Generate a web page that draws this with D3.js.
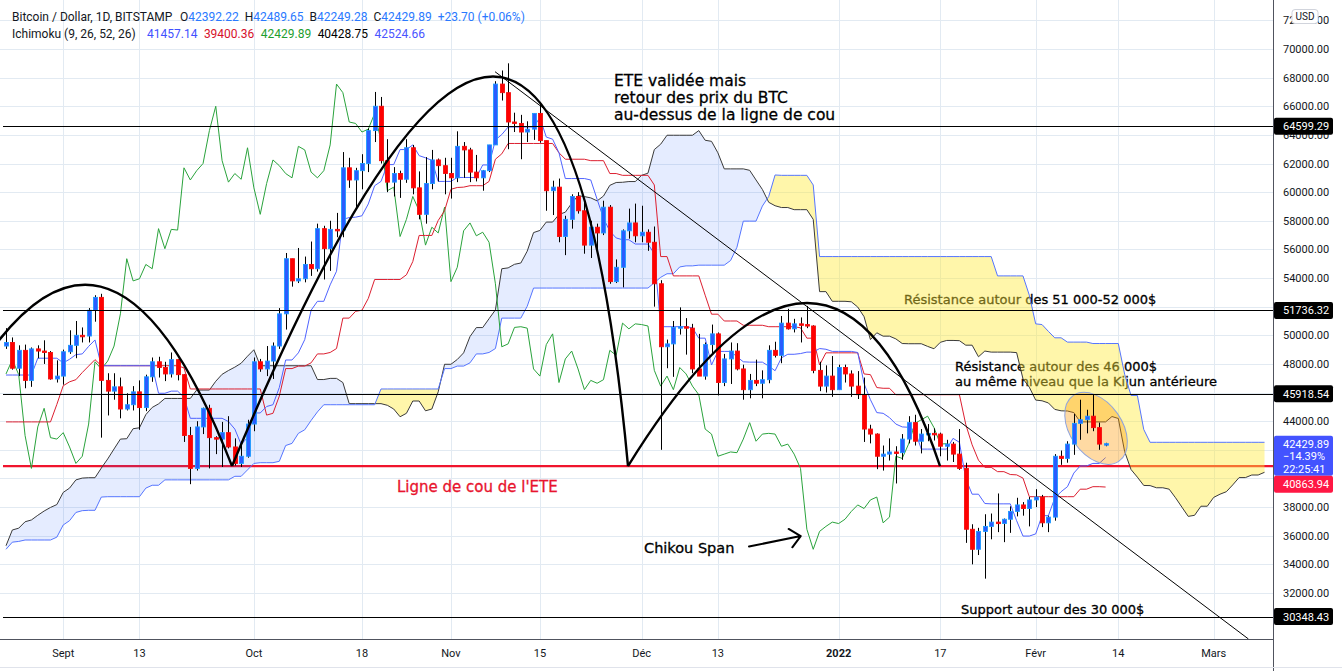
<!DOCTYPE html>
<html><head><meta charset="utf-8">
<script src="https://cdn.jsdelivr.net/npm/d3@7/dist/d3.min.js"></script>
<style>html,body{margin:0;padding:0;background:#fff;overflow:hidden}svg{display:block}</style>
</head><body>
<svg id="chart" width="1342" height="671"></svg>
<script>
// ---------------- DATA (daily candles, BITSTAMP BTC/USD, from 2021-08-23) ----------------
const firstDay = "2021-08-23";
const open = [
49250,49500,47700,48950,46850,49050,48900,48800,46950,47150,
48850,49300,50000,49950,51750,52650,46850,46100,46400,44850,
45150,46050,44950,47100,48150,47750,47300,48300,47250,43000,
40700,43600,44900,42850,42750,43200,42200,41050,41550,43800,
48150,47650,48200,49250,51500,55350,53800,53950,54950,54650,
57450,56050,57400,57350,61700,60850,61500,62000,64300,66000,
62200,60700,61300,60900,63100,60300,58450,60600,62250,61850,
61300,61000,63200,62950,61400,61000,61500,63300,67550,66950,
64900,64800,64200,64400,65500,63600,60100,60350,56900,58100,
59700,58700,56300,57550,57150,58950,53750,54750,57300,57850,
56950,57200,56500,53600,49200,49400,50550,50600,50500,47650,
47150,49350,50100,46700,48350,48900,47650,46200,46850,46650,
46900,48950,48600,50850,50450,50800,50750,50650,47550,46450,
47150,46200,47750,47300,46450,45850,43450,43100,41550,41700,
41850,41800,42750,43900,42600,43100,43150,43100,42250,42400,
41700,40700,36450,35050,36300,36650,36950,36850,37150,37700,
38150,37900,38500,38700,36900,37300,41550,41400,42400,43850,
44100,44350,43550,42392.22];
const high = [
50500,49850,49300,49350,49150,49300,49650,48900,48250,49000,
50350,51000,50550,51900,52800,52900,47350,47350,47050,45950,
46450,46850,47250,48450,48500,48150,48800,48350,47300,43600,
44000,44950,45150,42950,43950,44350,42800,42600,44100,48450,
48350,49250,49500,51900,55750,55350,56100,55500,56550,57800,
57650,58000,58550,62800,62400,61700,62650,64450,67000,66650,
63700,61750,61500,63700,63300,61450,62450,62950,62350,62400,
62400,64250,63500,63100,62600,61550,63300,67750,68500,69000,
65550,65400,64950,65500,66300,63600,60800,60950,58350,59850,
60000,59300,58000,57800,59400,59100,55300,57400,58850,59200,
59050,57400,57600,53850,49700,51000,51950,51200,50800,50100,
49500,50750,50200,48700,49500,49450,47950,47300,48300,47550,
49300,49550,51350,51850,51150,51250,52050,50700,48150,47900,
48550,47950,47950,47550,47500,47050,43750,43150,42300,42800,
42250,43100,44350,44450,43450,43800,43500,43200,42700,42550,
43450,41100,36800,36550,37500,37550,38950,37200,38050,38650,
38350,38700,39250,38850,37400,41700,41950,42600,44500,45500,
44800,45850,43900,42489.65];
const low = [
49050,47600,47150,46300,46400,48400,48000,46900,46700,46550,
48700,48400,49500,49500,50950,42850,44400,45500,44200,44750,
44750,43400,44700,46750,47050,46800,47050,46850,42550,39600,
40550,43100,40700,41700,40800,42100,40900,40800,41450,43300,
47450,47150,46950,49050,50400,53400,53650,53700,54150,54450,
53900,54500,56850,56850,60300,58950,60200,61400,63500,62000,
60000,59700,59600,60650,59850,58100,57800,60200,60750,59850,
59550,60700,61000,60700,60750,60100,61400,63300,66400,63000,
64200,62300,63500,63650,63450,58700,58400,56500,55600,57450,
58500,55700,55400,55900,57000,53600,53650,53350,56750,56500,
56500,55900,52000,42000,47700,47100,50050,48650,47350,47250,
46900,48700,45800,46450,46600,47550,45500,45600,46450,45600,
46650,48450,48050,50400,50200,49500,50500,47350,46100,46000,
45700,46200,46700,45700,45550,42550,42450,40650,40550,41250,
39650,41300,42450,42300,41750,42600,42650,41550,41250,41150,
40600,35500,34000,34650,33000,35750,36250,35550,36200,37350,
37400,36650,38000,36600,36250,37050,40950,41100,41650,42700,
43150,43300,42000,42249.28];
const close = [
49500,47700,48950,46850,49050,48900,48800,46950,47150,48850,
49300,50000,49950,51750,52650,46850,46100,46400,44850,45150,
46050,44950,47100,48150,47750,47300,48300,47250,43000,40700,
43600,44900,42850,42750,43200,42200,41050,41550,43800,48150,
47650,48200,49250,51500,55350,53800,53950,54950,54650,57450,
56050,57400,57350,61700,60850,61500,62000,64300,66000,62200,
60700,61300,60900,63100,60300,58450,60600,62250,61850,61300,
61000,63200,62950,61400,61000,61500,63300,67550,66950,64900,
64800,64200,64400,65500,63600,60100,60350,56900,58100,59700,
58700,56300,57550,57150,58950,53750,54750,57300,57850,56950,
57200,56500,53600,49200,49400,50550,50600,50500,47650,47150,
49350,50100,46700,48350,48900,47650,46200,46850,46650,46900,
48950,48600,50850,50450,50800,50750,50650,47550,46450,47150,
46200,47750,47300,46450,45850,43450,43100,41550,41700,41850,
41800,42750,43900,42600,43100,43150,43100,42250,42400,41700,
40700,36450,35050,36300,36650,36950,36850,37150,37700,38150,
37900,38500,38700,36900,37300,41550,41400,42400,43850,44100,
44350,43550,42400,42429.89];

// Ichimoku (9, 26, 52, 26) lines
const tenkan = [
47225,47225,47225,47225,47225,48400,48400,48400,48400,48075,
48325,48650,48700,49225,49675,47875,47875,47875,47875,47875,
47875,47875,47875,47875,45950,45950,46100,46100,45675,44200,
44200,44200,44200,44200,44200,43975,43450,42375,42850,44575,
44575,45025,45150,46350,48275,48275,48775,49700,51750,52375,
52375,53525,54475,58100,58225,58250,58350,59175,60450,60750,
61925,61925,62975,62975,63300,62550,62400,62225,60750,60750,
60750,61025,61025,61025,61025,61900,61900,63650,64025,64550,
64550,64550,64550,64550,65200,63850,63700,62750,60950,60950,
60950,60950,60850,59500,58175,57275,56800,56675,56675,56375,
56375,56375,55700,50600,50600,50600,50600,50600,50525,49800,
49800,47925,48875,48875,48875,48500,48150,48125,48125,48125,
47850,47525,48425,48675,48675,48725,48825,48825,49075,49025,
48875,48875,48875,48875,48800,46625,45500,44600,44550,44250,
43800,43600,43575,43350,42050,42050,42050,42050,42050,42800,
42525,39975,38900,38900,38250,38225,38225,38225,38225,37050,
35975,35975,36125,37400,37400,38625,39075,39425,40375,40875,
40875,41050,41050,41457.14];
const kijun = [
43950,43950,43950,43950,43950,43950,43950,43950,45175,46475,
46750,46900,47400,47850,48300,47875,47875,47875,47875,47875,
47875,47875,47875,47875,47875,47875,47875,47875,47725,46250,
46250,46250,46250,46250,46250,46250,46250,46250,46250,46250,
46250,44425,44550,45750,47675,47675,47850,47850,48075,48700,
48700,48800,49075,51200,51200,51675,51750,52575,53900,53900,
53900,53900,53900,54225,55150,56975,56975,56975,58025,58700,
60200,60325,60350,60450,60450,60450,60750,62300,62675,63400,
63400,63400,63400,63400,63400,63400,63400,62750,62300,62300,
62300,62300,62200,62200,62200,61300,61300,61175,61175,61175,
61175,61175,60500,55500,55500,54150,54150,54150,54150,54150,
52800,51475,51475,51000,51000,51000,50700,50700,50700,50700,
50600,50600,50600,50600,50600,50525,49800,49800,47925,48775,
48775,48775,48775,48775,48775,47300,47250,46350,46300,46300,
45850,45850,45850,45850,45850,45850,45850,45850,45850,45850,
45850,43775,42350,41275,40775,40775,40475,40475,40275,40250,
40025,38725,38725,38725,38725,38725,38725,38725,38725,39250,
39250,39425,39425,39400.36];
// leading spans, one value per plotted day (index 0 = 2021-08-23 ... 198 = 25 days after last candle)
const leadA = [
35300,36400,36525,36975,37100,37425,37725,37975,38175,39025,
39325,39900,40025,40050,40050,40725,41360,42060,42750,42775,
43475,43540,44460,44960,45210,45590,45590,45590,45590,45590,
46175,46175,46175,46790,47275,47540,47775,48050,48540,48990,
47875,47875,47875,47875,47875,47875,47875,47875,47875,46910,
46910,46990,46990,46700,45225,45225,45225,45225,45225,45225,
45110,44850,44310,44550,45410,45410,44725,44850,46050,47975,
47975,48310,48775,49910,50540,50540,51160,51775,54650,54710,
54960,55050,55875,57175,57325,57910,57910,58440,58600,59225,
59760,59690,59600,59390,59725,60475,60675,60690,60740,60740,
61175,61325,62975,63350,63975,63975,63975,63975,63975,64300,
63625,63550,62750,61625,61625,61625,61625,61525,60850,60190,
59290,59050,58925,58925,58775,58775,58775,58100,53050,53050,
52375,52375,52375,52340,51975,51300,49700,50175,49940,49940,
49750,49425,49410,49410,49410,49225,49060,49510,49640,49640,
49625,49310,49310,48500,48900,48825,48825,48825,48825,48790,
46960,46375,45475,45425,45275,44825,44725,44710,44600,43950,
43950,43950,43950,43950,44325,44190,41875,40625,40090,39510,
39500,39350,39350,39250,38650,38000,37350,37425,38060,38060,
38675,38900,39075,39550,40060,40060,40240,40240,40428.75];
const leadB = [
35050,35550,35600,35700,35700,35700,35700,35700,35900,36750,
37050,37625,37750,37775,37775,38700,38725,38725,38725,38725,
38725,38725,39325,39525,39525,39900,39900,39900,39900,39900,
39900,39900,39900,39900,39900,39900,40150,40150,40600,41050,
41100,41100,41100,41200,42300,42450,43150,43400,44050,44650,
45150,45150,45150,45150,45150,45150,45150,45150,45150,46250,
46250,46250,46250,46250,46250,46250,46250,46250,46250,47675,
47675,47850,47850,48075,48700,48700,48800,49075,51200,51200,
51200,51200,52025,53300,53300,53300,53300,53300,53300,53300,
53300,53300,53300,53300,53300,53300,53300,53300,53300,53300,
53300,53300,53675,54050,54300,54300,54775,54850,54850,54900,
54900,54900,54900,54900,55225,56150,57975,57975,57975,59025,
59700,61200,61175,61175,61175,61175,61175,60500,55500,55500,
55500,55500,55500,55500,55500,55500,55500,55500,55500,55500,
55500,55500,55500,55500,55500,55500,55500,55500,55500,55500,
55500,55500,55500,55500,55500,55500,54150,54150,54150,54150,
54150,52800,50800,50750,50275,49825,49825,49525,49525,49525,
49525,49425,49425,49425,49425,49425,47275,45800,45800,43425,
42524.66,42524.66,42524.66,42524.66,42524.66,42524.66,42524.66,42524.66,42524.66,42524.66,
42524.66,42524.66,42524.66,42524.66,42524.66,42524.66,42524.66,42524.66,42524.66];
const chikouShift = 25;

// axis ticks (labels hidden by the price boxes are omitted, as in the reference)
const priceTicks = [32000,34000,36000,38000,40000,42000,44000,46000,48000,50000,52000,54000,56000,58000,60000,62000,64000,66000,68000,70000,72000];
const priceTickLabels = [32000,34000,36000,38000,44000,48000,50000,54000,56000,58000,60000,62000,64000,66000,68000,70000,72000];
const timeTickDates = ["2021-09-01","2021-09-13","2021-10-01","2021-10-18","2021-11-01","2021-11-15","2021-12-01","2021-12-13","2022-01-01","2022-01-17","2022-02-01","2022-02-14","2022-03-01"];
const timeTickLabels = ["Sept","13","Oct","18","Nov","15","Déc","13","2022","17","Févr","14","Mars"];

// drawings (anchors as [day index from first candle, price])
const hLevels = [64599.29, 51736.32, 45918.54, 30348.43];
const neckline = 40863.94;
const shoulderLeft = [[-7.24,45480],[15.58,63640],[35.56,40864]];
const headArc = [[35.56,40864],[86.53,95287],[97.86,40864]];
const shoulderRight = [[97.86,40864],[129.64,63643],[146.95,40864]];
const trendLine = [[76.94,68414],[195.47,28787]];
const chikouArrow = [[116.9,35248],[125.03,35974]];
const ellipseCenter = [171.5, 43502];

// legend values
const lastPrice = 42429.89;
const ohlcLabels = ["O","H","B","C"];
const ohlcValues = ["42392.22","42489.65","42249.28","42429.89"];
const ichiValues = ["41457.14","39400.36","42429.89","40428.75","42524.66"];

// ---------------- CHART ----------------
const W = 1342, H = 671, PR = 1273, PB = 639;
const t0 = Date.parse(firstDay + "T00:00:00Z"), DAY = 86400000;
const dayDate = i => new Date(t0 + i * DAY);
const x = d3.scaleUtc().domain([dayDate(0), dayDate(173)]).range([6, 1105.6]);
const y = d3.scaleLinear().domain([30000, 70000]).range([621.6, 49]);
const X = i => x(dayDate(i));

const svg = d3.select("#chart");
svg.append("rect").attr("width", W).attr("height", H).attr("fill", "#ffffff");
svg.append("defs").append("clipPath").attr("id", "plot")
  .append("rect").attr("x", 0).attr("y", 0).attr("width", PR).attr("height", PB);
const plot = svg.append("g").attr("clip-path", "url(#plot)");

// grid
const gh = plot.append("g").attr("shape-rendering", "crispEdges");
gh.selectAll("line").data(priceTicks).join("line")
  .attr("x1", 0).attr("x2", PR)
  .attr("y1", d => Math.round(y(d)) + 0.5).attr("y2", d => Math.round(y(d)) + 0.5)
  .attr("stroke", "#e2eaf2");
const gv = plot.append("g").attr("shape-rendering", "crispEdges");
gv.selectAll("line").data(timeTickDates).join("line")
  .attr("x1", d => Math.round(x(new Date(d + "T00:00:00Z"))) + 0.5)
  .attr("x2", d => Math.round(x(new Date(d + "T00:00:00Z"))) + 0.5)
  .attr("y1", 0).attr("y2", PB).attr("stroke", "#e2eaf2");

// annotation texts & neckline (below the cloud)
const under = plot.append("g").attr("font-family", "'DejaVu Sans', Verdana, sans-serif");
under.append("line").attr("x1", 3).attr("x2", PR)
  .attr("y1", y(neckline)).attr("y2", y(neckline))
  .attr("stroke", "#f0142d").attr("stroke-width", 2.2);
function note(g, anchor, lines, size, pitch, color) {
  const t = g.append("text").attr("x", X(anchor[0])).attr("y", y(anchor[1]))
    .attr("font-size", size).attr("fill", color)
    .attr("stroke", color).attr("stroke-width", 0.3);
  lines.forEach((s, k) => t.append("tspan").attr("x", X(anchor[0])).attr("dy", k === 0 ? 0 : pitch).text(s));
}
note(under, [95.66, 67415], ["ETE validée mais", "retour des prix du BTC", "au-dessus de la ligne de cou"], 15.5, 17, "#000");
note(under, [141.28, 52166], ["Résistance autour des 51 000-52 000$"], 13, 15, "#000");
note(under, [149.31, 47508], ["Résistance autour des 46 000$", "au même niveau que la Kijun antérieure"], 13, 14.7, "#000");
note(under, [61.52, 39055], ["Ligne de cou de l'ETE"], 15, 17, "#e8142e");
note(under, [100.38, 34768], ["Chikou Span"], 14.5, 17, "#000");
note(under, [150.25, 30561], ["Support autour des 30 000$"], 13, 15, "#000");

// cloud
const cloud = [];
for (let i = 0; i < leadA.length; i++) {
  cloud.push({ t: i, a: leadA[i], b: leadB[i] });
  if (i < leadA.length - 1) {
    const d0 = leadA[i] - leadB[i], d1 = leadA[i + 1] - leadB[i + 1];
    if (d0 * d1 < 0) {
      const f = d0 / (d0 - d1);
      cloud.push({ t: i + f, a: leadA[i] + f * (leadA[i + 1] - leadA[i]), b: leadB[i] + f * (leadB[i + 1] - leadB[i]) });
    }
  }
}
plot.append("path").datum(cloud)
  .attr("d", d3.area().x(p => X(p.t)).y0(p => y(p.b)).y1(p => y(Math.max(p.a, p.b))))
  .attr("fill", "rgba(41,98,255,0.12)");
plot.append("path").datum(cloud)
  .attr("d", d3.area().x(p => X(p.t)).y0(p => y(p.a)).y1(p => y(Math.max(p.a, p.b))))
  .attr("fill", "rgba(255,235,59,0.43)");

// ichimoku lines
const line = d3.line().x((v, i) => X(i)).y(v => y(v));
const ichi = plot.append("g").attr("fill", "none").attr("stroke-width", 1);
ichi.append("path").attr("d", line(leadA)).attr("stroke", "#3a3a3a");
ichi.append("path").attr("d", line(leadB)).attr("stroke", "#5575ff");
ichi.append("path").attr("d", line(close.slice(chikouShift))).attr("stroke", "#2aa33c");
ichi.append("path").attr("d", line(kijun)).attr("stroke", "#dc1f30");
ichi.append("path").attr("d", line(tenkan)).attr("stroke", "#4f63ff");

// highlight ellipse
const ec = [X(ellipseCenter[0]), y(ellipseCenter[1])];
plot.append("ellipse").attr("cx", ec[0]).attr("cy", ec[1])
  .attr("rx", X(ellipseCenter[0] + 6.29) - ec[0]).attr("ry", y(ellipseCenter[1] - 1816) - ec[1])
  .attr("transform", `rotate(55 ${ec[0]} ${ec[1]})`)
  .attr("fill", "rgba(255,152,0,0.36)").attr("stroke", "#8fa3dc").attr("stroke-width", 1);

// candles
const candles = plot.append("g");
const idx = d3.range(close.length);
candles.selectAll("line").data(idx).join("line")
  .attr("x1", i => Math.round(X(i)) + 0.5).attr("x2", i => Math.round(X(i)) + 0.5)
  .attr("y1", i => y(high[i])).attr("y2", i => y(low[i]))
  .attr("stroke", "#000").attr("stroke-width", 1);
candles.selectAll("rect").data(idx).join("rect")
  .attr("x", i => Math.round(X(i)) - 1.5).attr("width", 4)
  .attr("y", i => y(Math.max(open[i], close[i])))
  .attr("height", i => Math.max(1.5, y(Math.min(open[i], close[i])) - y(Math.max(open[i], close[i]))))
  .attr("fill", i => close[i] >= open[i] ? "#2a5cff" : "#ff0000")
  .attr("stroke", i => close[i] >= open[i] ? "#1f9bff" : "#f41010").attr("stroke-width", 0.9);

// drawings
const draw = plot.append("g").attr("fill", "none");
draw.selectAll("line").data(hLevels).join("line")
  .attr("x1", 3).attr("x2", PR)
  .attr("y1", d => Math.round(y(d)) + 0.5).attr("y2", d => Math.round(y(d)) + 0.5)
  .attr("stroke", "#000").attr("stroke-width", 1);
[shoulderLeft, headArc, shoulderRight].forEach(a => {
  const p = d3.path();
  p.moveTo(X(a[0][0]), y(a[0][1]));
  p.quadraticCurveTo(X(a[1][0]), y(a[1][1]), X(a[2][0]), y(a[2][1]));
  draw.append("path").attr("d", p.toString()).attr("stroke", "#000").attr("stroke-width", 2.4);
});
draw.append("line")
  .attr("x1", X(trendLine[0][0])).attr("y1", y(trendLine[0][1]))
  .attr("x2", X(trendLine[1][0])).attr("y2", y(trendLine[1][1]))
  .attr("stroke", "#000").attr("stroke-width", 1);
{
  const ax0 = X(chikouArrow[0][0]), ay0 = y(chikouArrow[0][1]);
  const ax1 = X(chikouArrow[1][0]), ay1 = y(chikouArrow[1][1]);
  const ang = Math.atan2(ay1 - ay0, ax1 - ax0), L = 14, sp = 0.73;
  const p = d3.path();
  p.moveTo(ax0, ay0); p.lineTo(ax1, ay1);
  p.moveTo(ax1 - L * Math.cos(ang - sp), ay1 - L * Math.sin(ang - sp));
  p.lineTo(ax1, ay1);
  p.lineTo(ax1 - L * Math.cos(ang + sp), ay1 - L * Math.sin(ang + sp));
  draw.append("path").attr("d", p.toString()).attr("stroke", "#000").attr("stroke-width", 2)
    .attr("stroke-linecap", "round").attr("stroke-linejoin", "round");
}

// ---------------- AXES ----------------
const font = "Roboto, 'DejaVu Sans', sans-serif";
svg.append("rect").attr("x", PR).attr("y", 0).attr("width", W - PR).attr("height", H).attr("fill", "#fff");
svg.append("rect").attr("x", 0).attr("y", PB).attr("width", W).attr("height", H - PB).attr("fill", "#fff");
svg.append("line").attr("x1", PR + 0.5).attr("x2", PR + 0.5).attr("y1", 0).attr("y2", H)
  .attr("stroke", "#50535e").attr("shape-rendering", "crispEdges");
svg.append("line").attr("x1", 0).attr("x2", PR).attr("y1", PB + 0.5).attr("y2", PB + 0.5)
  .attr("stroke", "#50535e").attr("shape-rendering", "crispEdges");
svg.append("line").attr("x1", 0).attr("x2", W).attr("y1", 667.5).attr("y2", 667.5)
  .attr("stroke", "#e0e3eb").attr("shape-rendering", "crispEdges");

const ya = svg.append("g").attr("font-family", font).attr("font-size", 11).attr("fill", "#131722");
ya.selectAll("text").data(priceTickLabels).join("text")
  .attr("x", 1283).attr("y", d => y(d) + 4).text(d => d3.format(".2f")(d));

const xa = svg.append("g").attr("font-family", font).attr("font-size", 11).attr("fill", "#131722")
  .attr("text-anchor", "middle");
xa.selectAll("text").data(timeTickDates).join("text")
  .attr("x", d => x(new Date(d + "T00:00:00Z"))).attr("y", 657)
  .attr("font-weight", (d, i) => timeTickLabels[i] === "2022" ? "bold" : "normal")
  .text((d, i) => timeTickLabels[i]);

// price boxes
const boxes = svg.append("g").attr("font-family", font).attr("font-size", 11);
hLevels.forEach(v => {
  boxes.append("rect").attr("x", 1274).attr("y", y(v) - 8.5).attr("width", 59).attr("height", 17)
    .attr("rx", 2).attr("fill", "#000");
  boxes.append("text").attr("x", 1283).attr("y", y(v) + 4).attr("fill", "#fff").text(d3.format(".2f")(v));
});
{
  const top = y(lastPrice) - 8;
  boxes.append("rect").attr("x", 1274).attr("y", top).attr("width", 59).attr("height", 40)
    .attr("rx", 2).attr("fill", "#4353ff");
  ["42429.89", "\u221214.39%", "22:25:41"].forEach((s, k) =>
    boxes.append("text").attr("x", 1283).attr("y", y(lastPrice) + 4 + k * 12.5).attr("fill", "#fff").text(s));
  boxes.append("rect").attr("x", 1274).attr("y", top + 40).attr("width", 59).attr("height", 17)
    .attr("rx", 2).attr("fill", "#ff1744");
  boxes.append("text").attr("x", 1283).attr("y", top + 40 + 12.5).attr("fill", "#fff").text(d3.format(".2f")(neckline));
}
svg.append("rect").attr("x", 1292).attr("y", 9.5).attr("width", 26).attr("height", 14).attr("rx", 3)
  .attr("fill", "#fff").attr("stroke", "#d1d4dc");
svg.append("text").attr("x", 1305).attr("y", 20).attr("text-anchor", "middle")
  .attr("font-family", font).attr("font-size", 10).attr("fill", "#131722").text("USD");

// legend
const lg = svg.append("g").attr("font-family", font).attr("font-size", 12);
lg.append("text").attr("x", 12).attr("y", 21).attr("fill", "#131722").text("Bitcoin / Dollar, 1D, BITSTAMP");
let lx = 180;
ohlcLabels.forEach((l, k) => {
  const t = lg.append("text").attr("x", lx).attr("y", 21);
  t.append("tspan").attr("fill", "#131722").text(l);
  t.append("tspan").attr("fill", "#2979ff").text(ohlcValues[k]);
  lx += t.node().getComputedTextLength() + 6;
});
lg.append("text").attr("x", lx).attr("y", 21).attr("fill", "#2979ff").text("+23.70 (+0.06%)");
lg.append("text").attr("x", 12).attr("y", 38).attr("fill", "#131722").text("Ichimoku (9, 26, 52, 26)");
const ichiC = ["#3f51ff", "#d6112a", "#1e9e2e", "#000000", "#4a55ff"];
let ix = 147;
ichiValues.forEach((v, k) => {
  const t = lg.append("text").attr("x", ix).attr("y", 38).attr("fill", ichiC[k]).text(v);
  ix += t.node().getComputedTextLength() + 6.5;
});
</script>
</body></html>
